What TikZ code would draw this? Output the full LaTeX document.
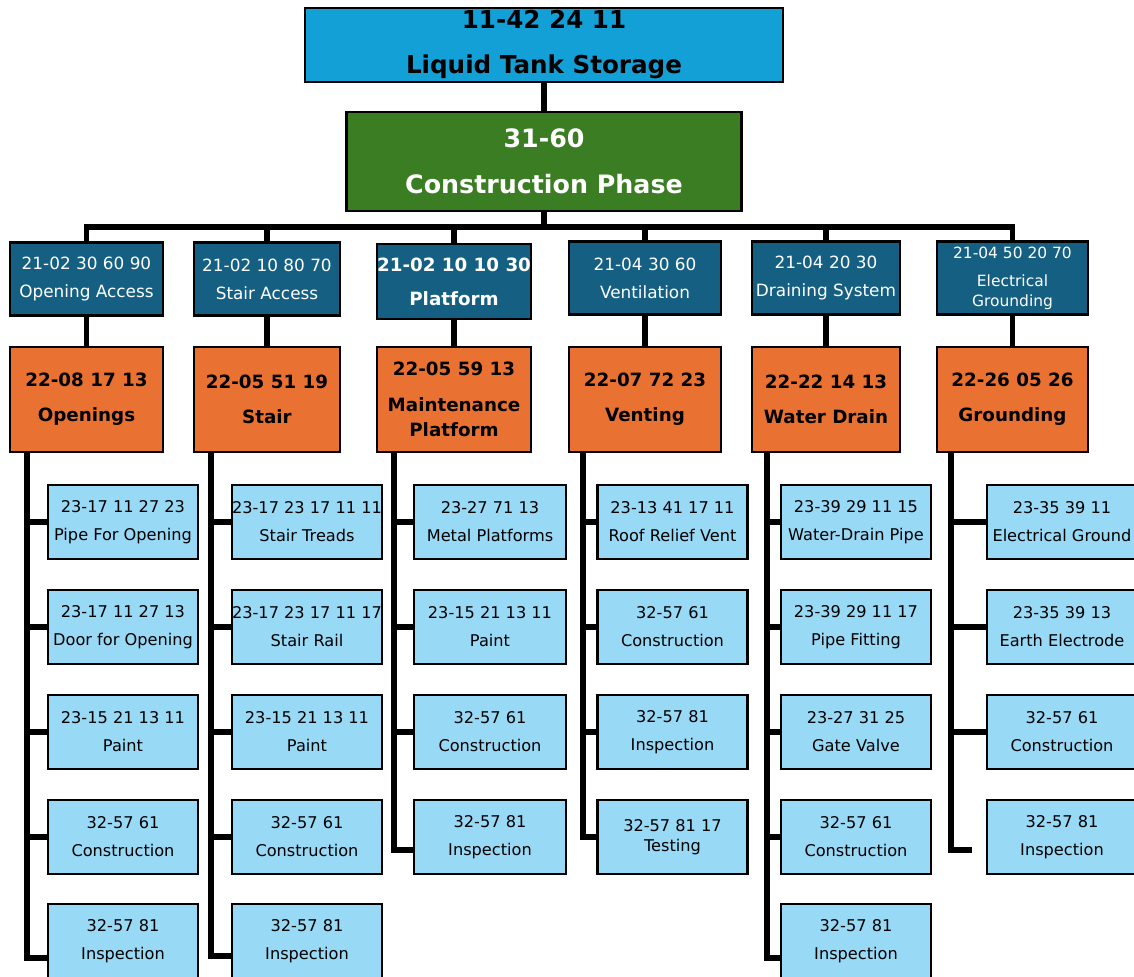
\documentclass[tikz,border=0pt]{standalone}
\usepackage{fontspec}
\setmainfont{DejaVu Sans}
\definecolor{tankblue}{HTML}{12A0D7}
\definecolor{phasegreen}{HTML}{3B7D23}
\definecolor{areateal}{HTML}{156082}
\definecolor{workorange}{HTML}{E97132}
\definecolor{itemblue}{HTML}{98D9F6}

\begin{document}
\begin{tikzpicture}[x=0.025cm, y=-0.025cm,
  box/.style={draw=black, line width=1.7pt, inner sep=0pt, align=center},
  tankbox/.style={box, fill=tankblue, minimum width=11.95cm, minimum height=1.85cm, font=\fontsize{17.5}{32}\selectfont\bfseries},
  phasebox/.style={box, fill=phasegreen, text=white, minimum width=9.875cm, minimum height=2.475cm, font=\fontsize{18}{33}\selectfont\bfseries},
  areabox/.style={box, fill=areateal, text=white, minimum height=1.825cm, font=\fontsize{12}{20}\selectfont},
  workbox/.style={box, fill=workorange, minimum height=2.625cm, font=\fontsize{13}{25}\selectfont\bfseries},
  itembox/.style={box, fill=itemblue, minimum width=3.75cm, minimum height=1.85cm, font=\fontsize{11.5}{20}\selectfont},
  link/.style={line width=4pt, line join=miter}]
\useasboundingbox (0,0) rectangle (1134,977);

\node[tankbox] (tank) at (544,45) {11-42 24 11\\Liquid Tank Storage};
\node[phasebox] (phase) at (544,161.5) {31-60\\Construction Phase};

\node[areabox, minimum width=3.825cm] (a1) at (86.5,279) {21-02 30 60 90\\Opening Access};
\node[areabox, minimum width=3.65cm] (a2) at (267,279) {21-02 10 80 70\\Stair Access};
\node[areabox, minimum width=3.85cm, minimum height=1.875cm, font=\fontsize{13}{24}\selectfont\bfseries] (a3) at (454,281.5) {21-02 10 10 30\\Platform};
\node[areabox, minimum width=3.8cm] (a4) at (645,278) {21-04 30 60\\Ventilation};
\node[areabox, minimum width=3.7cm] (a5) at (826,278) {21-04 20 30\\Draining System};
\node[areabox, minimum width=3.775cm, font=\fontsize{11}{14}\selectfont] (a6) at (1012.5,278) {21-04 50 20 70\\[6pt]Electrical\\Grounding};

\node[workbox, minimum width=3.825cm] (w1) at (86.5,399.5) {22-08 17 13\\Openings};
\node[workbox, minimum width=3.65cm] (w2) at (267,399.5) {22-05 51 19\\Stair};
\node[workbox, minimum width=3.85cm] (w3) at (454,399.5) {22-05 59 13\\Maintenance\\[-7pt]Platform};
\node[workbox, minimum width=3.8cm] (w4) at (645,399.5) {22-07 72 23\\Venting};
\node[workbox, minimum width=3.7cm] (w5) at (826,399.5) {22-22 14 13\\Water Drain};
\node[workbox, minimum width=3.775cm] (w6) at (1012.5,399.5) {22-26 05 26\\Grounding};

\node[itembox] (i11) at (123,522) {23-17 11 27 23\\Pipe For Opening};
\node[itembox] (i12) at (123,627) {23-17 11 27 13\\Door for Opening};
\node[itembox] (i13) at (123,732) {23-15 21 13 11\\Paint};
\node[itembox] (i14) at (123,837) {32-57 61\\Construction};
\node[itembox] (i15) at (123,941) {32-57 81\\Inspection};

\node[itembox] (i21) at (307,522) {23-17 23 17 11 11\\Stair Treads};
\node[itembox] (i22) at (307,627) {23-17 23 17 11 17\\Stair Rail};
\node[itembox] (i23) at (307,732) {23-15 21 13 11\\Paint};
\node[itembox] (i24) at (307,837) {32-57 61\\Construction};
\node[itembox] (i25) at (307,941) {32-57 81\\Inspection};

\node[itembox, minimum width=3.8cm] (i31) at (490,522) {23-27 71 13\\Metal Platforms};
\node[itembox, minimum width=3.8cm] (i32) at (490,627) {23-15 21 13 11\\Paint};
\node[itembox, minimum width=3.8cm] (i33) at (490,732) {32-57 61\\Construction};
\node[itembox, minimum width=3.8cm] (i34) at (490,837) {32-57 81\\Inspection};

\node[itembox] (i41) at (672.5,522) {23-13 41 17 11\\Roof Relief Vent};
\node[itembox] (i42) at (672.5,627) {32-57 61\\Construction};
\node[itembox] (i43) at (672.5,732) {32-57 81\\Inspection};
\node[itembox] (i44) at (672.5,837) {32-57 81 17\\[-6pt]Testing};

\node[itembox] (i51) at (856,522) {23-39 29 11 15\\Water-Drain Pipe};
\node[itembox] (i52) at (856,627) {23-39 29 11 17\\Pipe Fitting};
\node[itembox] (i53) at (856,732) {23-27 31 25\\Gate Valve};
\node[itembox] (i54) at (856,837) {32-57 61\\Construction};
\node[itembox] (i55) at (856,941) {32-57 81\\Inspection};

\node[itembox] (i61) at (1062,522) {23-35 39 11\\Electrical Ground};
\node[itembox] (i62) at (1062,627) {23-35 39 13\\Earth Electrode};
\node[itembox] (i63) at (1062,732) {32-57 61\\Construction};
\node[itembox] (i64) at (1062,837) {32-57 81\\Inspection};

\draw[link] (tank) -- (phase);
\coordinate (bus) at (544,227);
\draw[link] (phase) -- (bus);
\draw[link] (a1.north) |- (bus) -| (a6.north);
\draw[link] (a2.north) -- (a2.north |- bus);
\draw[link] (a3.north) -- (a3.north |- bus);
\draw[link] (a4.north) -- (a4.north |- bus);
\draw[link] (a5.north) -- (a5.north |- bus);
\draw[link] (a1) -- (w1);
\draw[link] (a2) -- (w2);
\draw[link] (a3) -- (w3);
\draw[link] (a4) -- (w4);
\draw[link] (a5) -- (w5);
\draw[link] (a6) -- (w6);

\coordinate (s1) at (27,958);
\draw[link] (w1.south -| s1) -- (s1) -- (s1 -| i15.west);
\draw[link] (s1 |- i11.west) -- (i11.west);
\draw[link] (s1 |- i12.west) -- (i12.west);
\draw[link] (s1 |- i13.west) -- (i13.west);
\draw[link] (s1 |- i14.west) -- (i14.west);

\coordinate (s2) at (211,956);
\draw[link] (w2.south -| s2) -- (s2) -- (s2 -| i25.west);
\draw[link] (s2 |- i21.west) -- (i21.west);
\draw[link] (s2 |- i22.west) -- (i22.west);
\draw[link] (s2 |- i23.west) -- (i23.west);
\draw[link] (s2 |- i24.west) -- (i24.west);

\coordinate (s3) at (394,850);
\draw[link] (w3.south -| s3) -- (s3) -- (s3 -| i34.west);
\draw[link] (s3 |- i31.west) -- (i31.west);
\draw[link] (s3 |- i32.west) -- (i32.west);
\draw[link] (s3 |- i33.west) -- (i33.west);

\coordinate (s4) at (583,837);
\draw[link] (w4.south -| s4) -- (s4) -- (s4 -| i44.west);
\draw[link] (s4 |- i41.west) -- (i41.west);
\draw[link] (s4 |- i42.west) -- (i42.west);
\draw[link] (s4 |- i43.west) -- (i43.west);

\coordinate (s5) at (767,958);
\draw[link] (w5.south -| s5) -- (s5) -- (s5 -| i55.west);
\draw[link] (s5 |- i51.west) -- (i51.west);
\draw[link] (s5 |- i52.west) -- (i52.west);
\draw[link] (s5 |- i53.west) -- (i53.west);
\draw[link] (s5 |- i54.west) -- (i54.west);

\coordinate (s6) at (951,850);
\coordinate (t6) at (972,850);
\draw[link] (w6.south -| s6) -- (s6) -- (t6);
\draw[link] (s6 |- i61.west) -- (i61.west);
\draw[link] (s6 |- i62.west) -- (i62.west);
\draw[link] (s6 |- i63.west) -- (i63.west);
\end{tikzpicture}
\end{document}
